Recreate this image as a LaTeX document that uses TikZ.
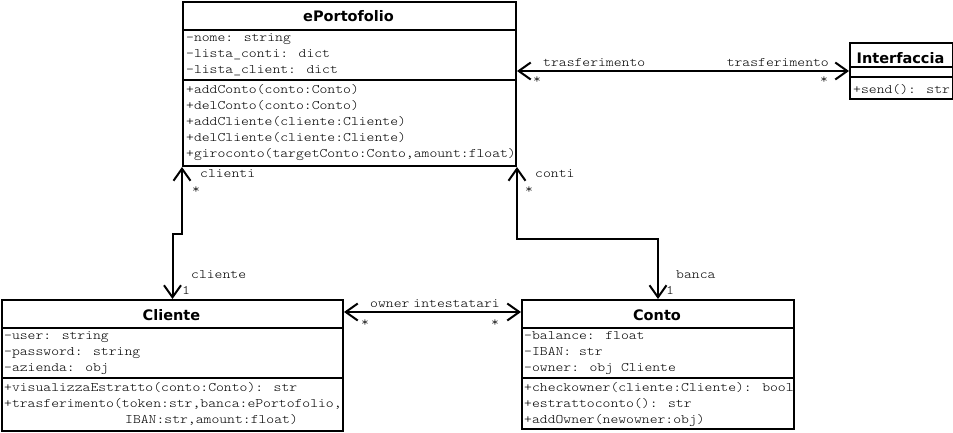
\documentclass[tikz,border=0pt]{standalone}
\usepackage{fontspec}
\newfontfamily\codefont{Latin Modern Mono Light}[FakeStretch=1.15]
\newfontfamily\titlefont{DejaVu Sans}
\usetikzlibrary{arrows.meta,calc}
\begin{document}
\begin{tikzpicture}[x=1pt,y=-1pt,
  cls/.style={draw, line width=2pt, inner sep=0pt, anchor=north west},
  sepline/.style={line width=2pt},
  ttl/.style={font=\titlefont\bfseries\fontsize{14.5}{14.5}\selectfont, inner sep=0pt, anchor=base},
  mem/.style={font=\codefont\fontsize{13}{13}\selectfont, inner sep=0pt, anchor=base west},
  meme/.style={font=\codefont\fontsize{13}{13}\selectfont, inner sep=0pt, anchor=base east},
  assoc/.style={line width=2pt, {Straight Barb[length=12pt,width=17pt]}-{Straight Barb[length=12pt,width=17pt]}},
]
\useasboundingbox (0,0) rectangle (953,432);

% ---------- ePortofolio ----------
\node[cls, minimum width=333pt, minimum height=164pt] (ep) at (182,1) {};
\draw[sepline] (ep.west |- 0,30) -- (ep.east |- 0,30);
\draw[sepline] (ep.west |- 0,80) -- (ep.east |- 0,80);
\node[ttl] (eptitle) at (348.5,21) {ePortofolio};
\node[mem] (epa1) at (186,41) {-nome: string};
\node[mem] (epa2) at (186,57) {-lista\_conti: dict};
\node[mem] (epa3) at (186,73) {-lista\_client: dict};
\node[mem] (epm1) at (186,93) {+addConto(conto:Conto)};
\node[mem] (epm2) at (186,109) {+delConto(conto:Conto)};
\node[mem] (epm3) at (186,125) {+addCliente(cliente:Cliente)};
\node[mem] (epm4) at (186,141) {+delCliente(cliente:Cliente)};
\node[mem] (epm5) at (186,157) {+giroconto(targetConto:Conto,amount:float)};

% ---------- Interfaccia ----------
\node[cls, minimum width=103pt, minimum height=56pt] (if) at (849,42) {};
\draw[sepline] (if.west |- 0,67) -- (if.east |- 0,67);
\draw[sepline] (if.west |- 0,77) -- (if.east |- 0,77);
\node[ttl] (iftitle) at (900.5,63) {Interfaccia};
\node[mem] (ifm1) at (853,93) {+send(): str};

% ---------- Cliente ----------
\node[cls, minimum width=341pt, minimum height=131pt] (cl) at (1,299) {};
\draw[sepline] (cl.west |- 0,328) -- (cl.east |- 0,328);
\draw[sepline] (cl.west |- 0,378) -- (cl.east |- 0,378);
\node[ttl] (cltitle) at (171.5,320) {Cliente};
\node[mem] (cla1) at (4,339) {-user: string};
\node[mem] (cla2) at (4,355) {-password: string};
\node[mem] (cla3) at (4,371) {-azienda: obj};
\node[mem] (clm1) at (4,391) {+visualizzaEstratto(conto:Conto): str};
\node[mem] (clm2) at (4,407) {+trasferimento(token:str,banca:ePortofolio,};
\node[mem] (clm3) at (125,423) {IBAN:str,amount:float)};

% ---------- Conto ----------
\node[cls, minimum width=272pt, minimum height=129pt] (co) at (521,299) {};
\draw[sepline] (co.west |- 0,328) -- (co.east |- 0,328);
\draw[sepline] (co.west |- 0,378) -- (co.east |- 0,378);
\node[ttl] (cotitle) at (657,320) {Conto};
\node[mem] (coa1) at (524,339) {-balance: float};
\node[mem] (coa2) at (524,355) {-IBAN: str};
\node[mem] (coa3) at (524,371) {-owner: obj Cliente};
\node[mem] (com1) at (524,391) {+checkowner(cliente:Cliente): bool};
\node[mem] (com2) at (524,407) {+estrattoconto(): str};
\node[mem] (com3) at (524,423) {+addOwner(newowner:obj)};

% ---------- connectors ----------
% ePortofolio <-> Interfaccia
\draw[assoc] (ep.east |- if.west) -- (if.west);
\node[mem] (l1) at (543,66) {trasferimento};
\node[mem] (m1) at (533,83) {*};
\node[meme] (l2) at (829,66) {trasferimento};
\node[mem] (m2) at (820,83) {*};

% ePortofolio <-> Cliente
\draw[assoc] (ep.south west) -- ++(0,67) -| (cl.north);
\node[mem] (l3) at (200,177) {clienti};
\node[mem] (m3) at (192,193) {*};
\node[mem] (l4) at (191,278) {cliente};
\node[mem] (m4) at (182,294) {1};

% ePortofolio <-> Conto
\draw[assoc] (ep.south east) -- ++(0,72) -| (co.north);
\node[mem] (l5) at (535,177) {conti};
\node[mem] (m5) at (525,193) {*};
\node[mem] (l6) at (676,278) {banca};
\node[mem] (m6) at (666,294) {1};

% Cliente <-> Conto
\draw[assoc] ($(cl.north east)+(0,13)$) -- ($(co.north west)+(0,13)$);
\node[mem] (l7) at (370,307) {owner};
\node[meme] (l8) at (500,307) {intestatari};
\node[mem] (m7) at (361,326) {*};
\node[mem] (m8) at (491,326) {*};
\end{tikzpicture}
\end{document}
